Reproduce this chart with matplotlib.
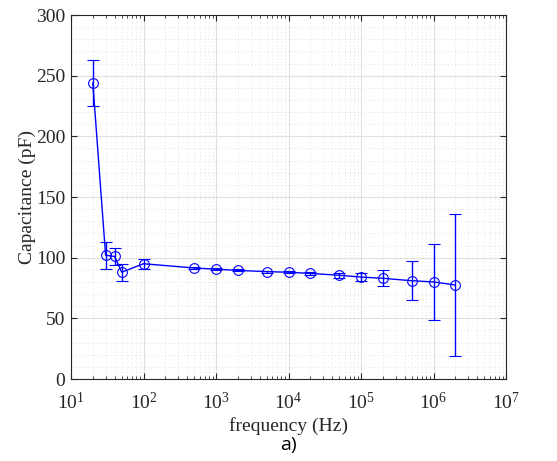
import numpy as np
import matplotlib
matplotlib.use("Agg")
import matplotlib.pyplot as plt
from matplotlib.ticker import FixedLocator, MultipleLocator, NullFormatter, LogFormatterSciNotation

freq = [20, 30, 40, 50, 100, 500, 1e3, 2e3, 5e3, 1e4, 2e4, 5e4, 1e5, 2e5, 5e5, 1e6, 2e6]
cap = [244, 102, 101, 88, 95, 91.5, 90.5, 89.5, 88.5, 88, 87, 85.5, 84, 83, 81, 80, 77.5]
err = [19, 11, 7, 7, 4, 0.8, 0.8, 0.8, 0.8, 1, 1, 2, 3.5, 6.5, 16, 31, 58.5]
decades = [1e1, 1e2, 1e3, 1e4, 1e5, 1e6, 1e7]

plt.rcParams['font.family'] = ['Liberation Serif']
plt.rcParams['mathtext.fontset'] = 'custom'
plt.rcParams['mathtext.rm'] = 'Liberation Serif'
plt.rcParams['mathtext.it'] = 'Liberation Serif:italic'

fig = plt.figure(figsize=(5.57, 4.61), dpi=100)
ax = fig.add_axes([71/557, 1 - 379/461, 435/557, 364/461])

ax.errorbar(freq, cap, yerr=err, color='#0000ff', marker='o', markersize=7,
            markerfacecolor='none', markeredgewidth=0.8, linewidth=1,
            elinewidth=1, capsize=4, capthick=1)

ax.set_xscale('log')
ax.set_xlim(10, 1e7)
ax.set_ylim(0, 300)
minor = [m * d for d in decades[:-1] for m in range(2, 10)]
ax.xaxis.set_major_locator(FixedLocator(decades))
ax.xaxis.set_major_formatter(LogFormatterSciNotation())
ax.xaxis.set_minor_locator(FixedLocator(minor))
ax.xaxis.set_minor_formatter(NullFormatter())
ax.yaxis.set_major_locator(MultipleLocator(50))
ax.yaxis.set_minor_locator(MultipleLocator(10))

ax.grid(which='major', color='#e0e0e0', linewidth=0.8)
ax.grid(which='minor', color='#d8d8d8', linestyle=(0, (1, 3)), linewidth=0.6)
ax.set_axisbelow(True)

ax.tick_params(which='both', direction='in', top=True, right=True, labelsize=14, colors='#262626')
ax.tick_params(which='major', length=4, width=0.8)
ax.tick_params(which='minor', length=2.5, width=0.6)
ax.tick_params(axis='y', which='minor', length=0)
ax.tick_params(axis='x', pad=9)
ax.tick_params(axis='y', pad=4)
for s in ax.spines.values():
    s.set_color('#262626')
    s.set_linewidth(0.8)

ax.set_xlabel('frequency (Hz)', fontsize=14, color='#262626', labelpad=3)
ax.set_ylabel('Capacitance (pF)', fontsize=14, color='#262626', labelpad=0)

fig.text(288/557, 1 - 445/461, 'a)', fontsize=14, family='Open Sans', ha='center', va='center')

fig.savefig('out.png', dpi=100)
